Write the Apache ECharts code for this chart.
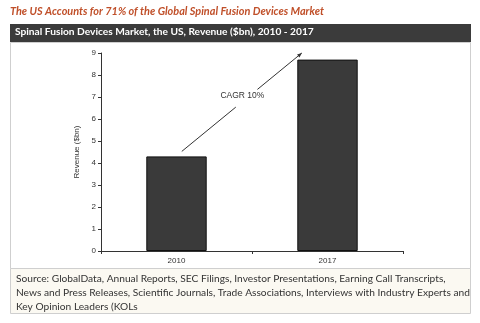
<!DOCTYPE html>
<html>
<head>
<meta charset="utf-8">
<script src="https://cdn.jsdelivr.net/npm/echarts@6/dist/echarts.min.js"></script>
<style>
  html, body { margin: 0; padding: 0; background: #ffffff; }
  #chart { width: 480px; height: 323px; }
</style>
</head>
<body>
<div id="chart"></div>
<script>
// Spinal fusion devices market, US revenue ($bn)
const years = ['2010', '2017'];
const revenue = [4.3, 8.7];
const yTicks = { min: 0, max: 9, interval: 1 };

const titleText = 'The US Accounts for 71% of the Global Spinal Fusion Devices Market';
const headerText = 'Spinal Fusion Devices Market, the US, Revenue ($bn), 2010 - 2017';
const cagrText = 'CAGR 10%';
const sourceLines = [
  'Source: GlobalData, Annual Reports, SEC Filings, Investor Presentations, Earning Call Transcripts,',
  'News and Press Releases, Scientific Journals, Trade Associations, Interviews with Industry Experts and',
  'Key Opinion Leaders (KOLs'
];

const chart = echarts.init(document.getElementById('chart'), null, { renderer: 'canvas' });

const frame = [
  // page title
  { type: 'text', left: 10, top: 6, z: 10,
    style: { text: titleText, fill: '#C0502A', font: 'italic bold 10.9px Lato' } },
  // dark header bar
  { type: 'rect', shape: { x: 10, y: 24, width: 461, height: 18 }, z: 1,
    style: { fill: '#3b3b3b' } },
  { type: 'text', left: 15, top: 27, z: 10,
    style: { text: headerText, fill: '#ffffff', font: 'bold 10.2px Lato' } },
  // white chart panel
  { type: 'rect', shape: { x: 10.5, y: 42.5, width: 460, height: 226 }, z: 0,
    style: { fill: '#ffffff', stroke: '#cfcfcf', lineWidth: 1 } },
  // source box
  { type: 'rect', shape: { x: 10.5, y: 268.5, width: 460, height: 45 }, z: 0,
    style: { fill: '#fbf9f2', stroke: '#cfcfcf', lineWidth: 1 } },
  { type: 'text', left: 16, top: 272, z: 10,
    style: { text: sourceLines.join('\n'), fill: '#333333', font: '10.2px Lato', lineHeight: 14 } }
];

const option = {
  backgroundColor: '#ffffff',
  animation: false,
  grid: { left: 101, right: 77, top: 53, bottom: 72 },
  xAxis: {
    type: 'category',
    data: years,
    axisLine: { lineStyle: { color: '#333333', width: 1 } },
    axisTick: { show: true, length: 3, lineStyle: { color: '#333333' } },
    axisLabel: { color: '#333333', fontSize: 8, fontFamily: 'Liberation Sans', margin: 6 }
  },
  yAxis: {
    type: 'value',
    min: yTicks.min, max: yTicks.max, interval: yTicks.interval,
    name: 'Revenue ($bn)',
    nameLocation: 'middle',
    nameGap: 13,
    nameTextStyle: { color: '#333333', fontSize: 8, fontFamily: 'Liberation Sans' },
    axisLine: { show: true, lineStyle: { color: '#333333', width: 1 } },
    axisTick: { show: true, length: 3, lineStyle: { color: '#333333' } },
    axisLabel: { color: '#333333', fontSize: 8, fontFamily: 'Liberation Sans', margin: 5 },
    splitLine: { show: false }
  },
  series: [{
    type: 'bar',
    data: revenue,
    barWidth: '40%',
    itemStyle: { color: '#3a3a3a', borderColor: '#111111', borderWidth: 1 }
  }],
  graphic: frame
};

chart.setOption(option);

// CAGR growth arrow, anchored on the two bars
const p0 = chart.convertToPixel({ gridIndex: 0 }, [0, revenue[0]]);
const p1 = chart.convertToPixel({ gridIndex: 0 }, [1, revenue[1]]);
const bandW = chart.convertToPixel({ gridIndex: 0 }, [1, 0])[0] - p0[0];
const start = [p0[0] + bandW * 0.035, p0[1] - 5];
const end = [p1[0] - bandW * 0.17, chart.convertToPixel({ gridIndex: 0 }, [0, yTicks.max])[1]];
const dx = end[0] - start[0], dy = end[1] - start[1];
const at = t => [start[0] + dx * t, start[1] + dy * t];
const gapA = at(0.45), gapB = at(0.63);
const mid = at(0.555);
const ang = Math.atan2(dy, dx);
const head = 5;
const arrow = [
  { type: 'line', z: 20, shape: { x1: start[0], y1: start[1], x2: gapA[0], y2: gapA[1] },
    style: { stroke: '#333333', lineWidth: 1 } },
  { type: 'line', z: 20, shape: { x1: gapB[0], y1: gapB[1], x2: end[0], y2: end[1] },
    style: { stroke: '#333333', lineWidth: 1 } },
  { type: 'polygon', z: 20, shape: { points: [
      end,
      [end[0] - head * Math.cos(ang - 0.4), end[1] - head * Math.sin(ang - 0.4)],
      [end[0] - head * Math.cos(ang + 0.4), end[1] - head * Math.sin(ang + 0.4)]
    ] }, style: { fill: '#333333' } },
  { type: 'text', z: 20, x: mid[0] - 6, y: mid[1] - 1,
    style: { text: cagrText, fill: '#333333', font: '8.5px Liberation Sans', align: 'center', verticalAlign: 'middle' } }
];

chart.setOption({ graphic: frame.concat(arrow) });
</script>
</body>
</html>
